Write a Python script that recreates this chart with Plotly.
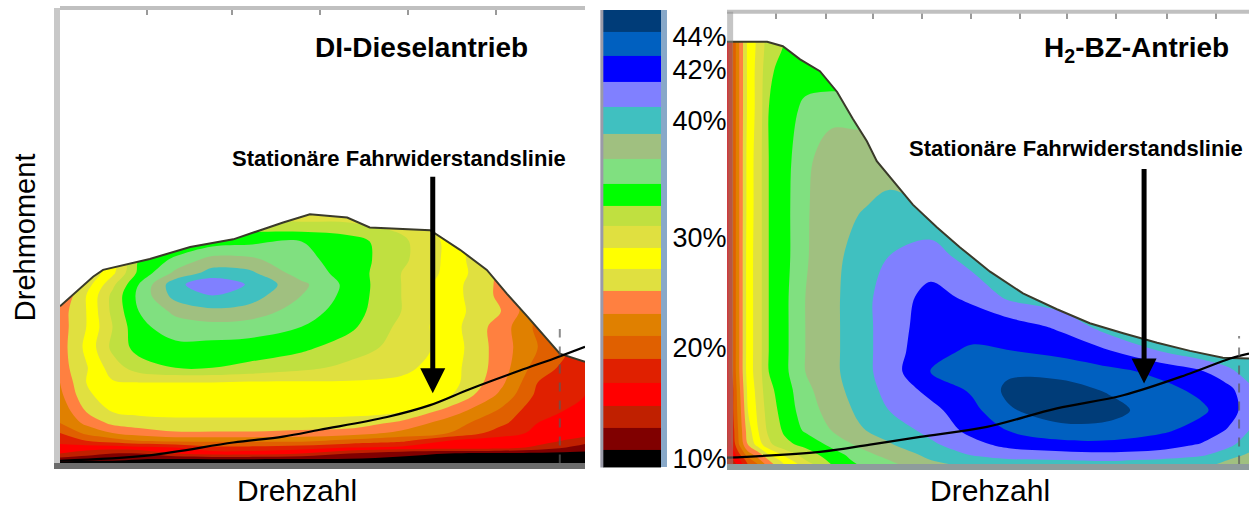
import numpy as np
import plotly.graph_objects as go

# ---------------- efficiency classes (band centres in %) and colours ----------------
band_eff = [10, 12, 14, 16, 18, 20, 22, 24, 26, 28, 30, 32, 34, 36, 38, 40, 41, 42, 43.5, 45]
band_colors = ["#000000", "#800000", "#c02000", "#ff0000", "#e02000", "#e06000", "#e08000",
               "#ff8040", "#e0e040", "#ffff00", "#e0e040", "#c0e040", "#00ff00", "#80e080",
               "#a0c080", "#40c0c0", "#8080ff", "#0000ff", "#0060c0", "#003c78"]
scale_ticks = [10, 20, 30, 40, 42, 44]
scale_labels = ["10%", "20%", "30%", "40%", "42%", "44%"]

# ---------------- DI-Diesel map (normalised speed / torque, efficiency in %) ----------------
diesel_speed = [0, 5, 10, 15, 22, 29, 36, 46, 55, 65, 74, 84, 91, 100]
diesel_torque = [0, 0.9, 2.2, 3.5, 5, 6.7, 8.9, 11.3, 15, 17.8, 21, 25.5, 30, 33.4,
                 36.9, 39.3, 41.8, 44.7, 48.7, 53.6, 58.6]
diesel_eff = [
    [10, 10, 10, 10, 10, 10, 10, 10, 10, 10, 10, 10, 10, 10],
    [12, 11.5, 11.5, 11, 10.8, 10.8, 10.8, 10.8, 10.8, 10.5, 10.3, 10.2, 10.2, 10.2],
    [15, 14, 13, 13, 15, 16, 16, 15, 13, 11.5, 11, 10.5, 10.5, 10.5],
    [16.5, 16, 16, 16.5, 17, 18.5, 18.5, 18, 17, 16.5, 16, 16, 14.5, 12],
    [17.5, 19, 20, 21, 21.5, 21.5, 21.5, 21.5, 20.5, 19.5, 17, 16, 16, 14],
    [19, 21.5, 23, 24, 24.8, 24.8, 24.8, 24.5, 24, 22.5, 21, 18, 16.5, 16],
    [21, 23.5, 25.5, 26, 26.2, 26.2, 26.2, 26.2, 26.3, 24.5, 22, 19.5, 17, 16],
    [21.5, 25, 27, 27.5, 27.8, 27.8, 27.8, 27.8, 27.5, 27, 24, 20.5, 17.5, 16.5],
    [22.5, 26.5, 28.3, 28.5, 28.5, 28.5, 28.5, 28.5, 28.5, 28.3, 27.3, 22.5, 18.5, 17],
    [23, 27, 28.8, 29, 29, 29, 28.8, 28.8, 28.8, 28.6, 28, 23.5, 19, 17],
    [24, 26.8, 30, 32, 33, 33, 32.5, 31.5, 30.5, 29.5, 28, 24, 20, 17.5],
    [24, 27.5, 31.5, 33.8, 34.5, 34.3, 34.2, 33.5, 32, 30.3, 28.3, 24, 21, 18],
    [24, 27, 31, 34.5, 36, 36.3, 36, 35, 33.5, 30.5, 28, 24, 20.5, 18],
    [24, 27, 31.5, 35, 37.5, 38.5, 38.2, 36, 34, 31, 28, 25, 21, 18],
    [23, 27, 31.5, 35.5, 39.8, 40.5, 40, 37, 34.3, 31, 28, 24.5, 21, 18],
    [22.5, 26, 30.5, 35, 40.2, 41.3, 40.4, 37.5, 34.4, 31, 28, 24.5, 21, 18],
    [22, 25, 28.5, 33.5, 37.5, 39.8, 39.5, 36, 34.3, 31, 28.5, 24.5, 21, 18],
    [21.5, 24.5, 28, 33, 35.5, 37.8, 37.5, 35.5, 34.2, 31.5, 28.5, 24, 21, 18],
    [21, 24, 27.5, 31, 33, 34, 34.5, 35, 34, 31.5, 28.5, 24, 21, 18],
    [20, 23, 26, 29, 30.5, 31, 31, 30.5, 30.5, 30, 28, 24, 21, 18],
    [19, 22, 25, 27, 28, 29, 29, 29, 29, 29, 27.5, 24, 21, 18],
]
diesel_full_speed = [0, 6.3, 8.2, 17.1, 24.8, 33.0, 42.5, 47.6, 54.7, 59.0, 70.5, 76.2,
                     81.3, 85.1, 89.0, 93.3, 95.2, 100]
diesel_full_torque = [34.5, 41.0, 42.5, 44.9, 47.5, 49.2, 52.9, 54.7, 54.0, 51.8, 51.2, 46.9,
                      42.5, 37.3, 32.3, 26.5, 24.1, 22.3]
diesel_road_speed = [0, 17, 33, 42.5, 49.5, 62.3, 70.5, 78, 87.6, 94, 100]
diesel_road_torque = [0.6, 1.8, 4.6, 5.9, 7.4, 10.2, 12.8, 16.3, 20.4, 23.0, 25.6]
diesel_rated_speed = [95.2, 95.2]
diesel_rated_torque = [0, 29.5]
diesel_arrow_tip = (71.0, 15.4)
diesel_speed_ticks = [16.6, 32.8, 49.5, 66.3, 83.0]

# ---------------- H2 fuel-cell map ----------------
fc_speed = [0, 1.2, 2.5, 4, 6, 8, 11, 15, 20, 25, 31, 39, 47, 54, 64, 73, 83, 91, 96, 100]
fc_torque = [0, 1, 2.2, 4.4, 7.5, 12, 16.5, 20.5, 25, 30.5, 37, 46, 57, 68, 78.5, 87, 93.5, 100]
fc_eff = [
    [13, 14, 16, 19, 21, 24, 27, 30, 33, 35, 36.5, 38.5, 39.5, 40, 40.2, 40.2, 40, 39.5, 38.5, 37.5],
    [14, 15, 17, 20, 22.5, 25, 28, 31, 33.5, 35.5, 37, 39, 40, 40.4, 40.5, 40.6, 40.4, 40, 39, 38],
    [15, 16, 19, 22, 24, 27, 29.5, 32, 34, 36, 37.8, 39.5, 40.6, 41, 41.2, 41.3, 41.1, 40.7, 39.8, 38.8],
    [14.5, 18, 21.5, 25, 28, 30.5, 32.5, 33.5, 35.5, 37.3, 38.8, 40.3, 41.2, 41.8, 42.2, 42.3, 42, 41.4, 40.8, 39.8],
    [15, 18.5, 22, 26, 29, 31.5, 33.3, 35.3, 37, 38.7, 39.8, 40.8, 41.8, 42.8, 43.8, 43.8, 43, 42.2, 41.4, 40.5],
    [15.5, 19, 22.5, 27, 29.5, 32, 33.8, 36, 37.8, 39.3, 40.5, 41.2, 42.3, 44.1, 45, 44.8, 43.5, 43, 42, 41],
    [15.5, 19, 23, 27.5, 29.8, 32.5, 34, 36.5, 38.2, 39.8, 40.8, 41.8, 43, 44.6, 44.8, 44.1, 43.2, 42.4, 41.8, 40.8],
    [16, 19.5, 23.5, 28, 30, 33, 34.5, 37, 38.5, 40, 41, 42.8, 43.5, 44, 43.8, 43.2, 42.4, 41.6, 40.8, 40],
    [16, 19.5, 23.5, 28, 30, 33, 34.5, 37, 38.5, 40, 41, 42.3, 43, 42.8, 42.3, 41.6, 40.5, 39.5, 39, 39],
    [16, 19.5, 23.5, 28, 30, 33, 34.5, 37, 38.5, 40, 41, 42, 42.1, 42, 41.3, 40, 39.5, 39, 39, 39],
    [16, 19.5, 23.5, 28, 30, 33, 34.5, 37, 38.5, 40, 41, 41.8, 41.3, 40.3, 39.5, 39.5, 39.5, 39.5, 39.5, 39.5],
    [16, 19.5, 23.5, 28, 30, 33, 34.3, 36.8, 38.3, 39.8, 40.5, 41, 40, 40, 40, 40, 40, 40, 40, 40],
    [16, 19.5, 23.5, 27.8, 30, 33, 34.3, 36.8, 38, 38.8, 39.5, 39, 39, 39, 39, 39, 39, 39, 39, 39],
    [16, 19.5, 23.5, 27.8, 30, 33, 34.2, 36.5, 38, 38.3, 38, 38, 38, 38, 38, 38, 38, 38, 38, 38],
    [16, 19.5, 23.5, 27.5, 29.8, 33, 34, 35.5, 36.3, 36, 36, 36, 36, 36, 36, 36, 36, 36, 36, 36],
    [16, 19.5, 23.5, 27.5, 29.8, 32.5, 34, 34, 33.5, 33.5, 33.5, 33.5, 33.5, 33.5, 33.5, 33.5, 33.5, 33.5, 33.5, 33.5],
    [16, 19.5, 23.5, 27.5, 29.5, 32, 33, 33.5, 33.5, 33.5, 33.5, 33.5, 33.5, 33.5, 33.5, 33.5, 33.5, 33.5, 33.5, 33.5],
    [16, 19.5, 23.5, 27.5, 29.5, 32, 33, 33.5, 33.5, 33.5, 33.5, 33.5, 33.5, 33.5, 33.5, 33.5, 33.5, 33.5, 33.5, 33.5],
]
fc_full_speed = [0, 7.7, 10.7, 14.0, 17.8, 21.1, 24.1, 26.8, 28.7, 31.8, 35.6, 40.2, 44.6,
                 50.4, 56.7, 63.2, 69.5, 75.9, 82.4, 88.7, 95.0, 100]
fc_full_torque = [93.4, 93.4, 92.4, 89.5, 86.9, 82.3, 76.4, 71.4, 67.0, 62.7, 57.4, 52.4, 48.0,
                  42.6, 37.8, 34.3, 31.2, 29.0, 26.9, 25.1, 23.6, 23.4]
fc_road_speed = [0, 17.8, 27.4, 37.0, 49.8, 63.2, 75.9, 88.7, 96.4, 100]
fc_road_torque = [1.5, 2.8, 4.4, 6.1, 8.3, 12.4, 15.3, 20.1, 23.4, 24.5]
fc_rated_speed = [98.1, 98.1]
fc_rated_torque = [0, 28.4]
fc_arrow_tip = (79.9, 17.9)
fc_speed_ticks = [9.4, 19.0, 28.0, 37.4, 46.7, 56.1, 65.1, 74.5, 84.3, 93.7]

# ---------------- style constants ----------------
W, H = 1249, 510
FONT = "Liberation Sans, Arial, sans-serif"
# drawn height (px) of each band in the colour scale, bottom to top
SCALE_BAND_PX = [18, 22, 22, 24, 24, 23, 22, 24, 22, 21, 22, 21, 22, 25, 26, 27, 25, 26, 25, 22]

n_b = len(band_colors)
colorscale = [[j / (n_b - 1), c] for j, c in enumerate(band_colors)]


def to_band(eff):
    return np.interp(np.asarray(eff, dtype=float), band_eff, np.arange(n_b)).tolist()


fig = go.Figure()


def add_map(xs, ys, eff, fx, fy, rx, ry, vx, vy, xa, ya, xtick_axis):
    fig.add_trace(go.Contour(
        x=xs, y=ys, z=to_band(eff), xaxis=xa, yaxis=ya,
        colorscale=colorscale, autocontour=False,
        contours=dict(start=0.5, end=n_b - 1.5, size=1, coloring="fill", showlines=False),
        line=dict(width=0, smoothing=1.0), showscale=False, hoverinfo="skip"))
    # white area above the full-load curve
    fig.add_trace(go.Scatter(
        x=fx + [100, 0], y=fy + [100, 100], xaxis=xa, yaxis=ya, mode="lines",
        fill="toself", fillcolor="white", line=dict(width=0, color="white"),
        hoverinfo="skip", showlegend=False))
    # full-load curve
    fig.add_trace(go.Scatter(x=fx, y=fy, xaxis=xa, yaxis=ya, mode="lines",
                             line=dict(color="#3a3a2a", width=2), hoverinfo="skip",
                             showlegend=False))
    # stationary road-load line
    fig.add_trace(go.Scatter(x=rx, y=ry, xaxis=xa, yaxis=ya, mode="lines",
                             line=dict(color="black", width=2.2, shape="spline"),
                             hoverinfo="skip", showlegend=False))
    # rated-speed dashed line (also anchors the top tick axis)
    fig.add_trace(go.Scatter(x=vx, y=vy, xaxis=xa, yaxis=ya, mode="lines",
                             line=dict(color="rgba(90,90,90,0.7)", width=2, dash="dash"),
                             hoverinfo="skip", showlegend=False))
    fig.add_trace(go.Scatter(x=vx, y=vy, xaxis=xtick_axis, yaxis=ya, mode="lines",
                             line=dict(width=0), opacity=0, hoverinfo="skip",
                             showlegend=False))


add_map(diesel_speed, diesel_torque, diesel_eff, diesel_full_speed, diesel_full_torque,
        diesel_road_speed, diesel_road_torque, diesel_rated_speed, diesel_rated_torque,
        "x", "y", "x4")
add_map(fc_speed, fc_torque, fc_eff, fc_full_speed, fc_full_torque,
        fc_road_speed, fc_road_torque, fc_rated_speed, fc_rated_torque, "x2", "y2", "x5")

# colour scale as a stacked band column
edges = np.concatenate([[0], np.cumsum(SCALE_BAND_PX)])
centres = (edges[:-1] + edges[1:]) / 2
fig.add_trace(go.Heatmap(z=[[j] for j in range(n_b)], x=[0], y=edges.tolist(),
                         colorscale=colorscale, zmin=0, zmax=n_b - 1, showscale=False,
                         xaxis="x3", yaxis="y3", hoverinfo="skip"))
scale_pos = np.interp(np.interp(scale_ticks, band_eff, np.arange(n_b)),
                      np.arange(n_b), centres).tolist()

hidden = dict(showgrid=False, zeroline=False, showticklabels=False, ticks="")
top_ticks = dict(side="top", showline=False, showgrid=False, zeroline=False,
                 showticklabels=False, ticks="inside", ticklen=7, tickwidth=2,
                 tickcolor="#9a9a9a", range=[0, 100])
fig.update_layout(
    width=W, height=H, margin=dict(l=0, r=0, t=0, b=0),
    paper_bgcolor="white", plot_bgcolor="white", showlegend=False,
    font=dict(family=FONT, color="black"),
    xaxis=dict(domain=[60 / W, 585 / W], range=[0, 100], anchor="y", showline=True,
               linecolor="#6c6c6c", linewidth=6, **hidden),
    yaxis=dict(domain=[41 / H, 502 / H], range=[0, 100], anchor="x", showline=True,
               linecolor="#c8c8c8", linewidth=6, **hidden),
    xaxis2=dict(domain=[727 / W, 1.0], range=[0, 100], anchor="y2", showline=True,
                linecolor="#8e9c9c", linewidth=6, **hidden),
    yaxis2=dict(domain=[40 / H, 498 / H], range=[0, 100], anchor="x2", showline=False,
                **hidden),
    xaxis3=dict(domain=[603 / W, 661 / W], range=[-0.5, 0.5], anchor="y3", visible=False),
    yaxis3=dict(domain=[37 / H, 500 / H], range=[0, float(edges[-1])], anchor="x3",
                side="right", showline=True, linecolor="#88a8c8", linewidth=6,
                showgrid=False, zeroline=False, ticks="", tickmode="array",
                tickvals=scale_pos, ticktext=scale_labels,
                tickfont=dict(size=27, family=FONT, color="black")),
    xaxis4=dict(overlaying="x", anchor="y", tickvals=diesel_speed_ticks, **top_ticks),
    xaxis5=dict(overlaying="x2", anchor="y2", tickvals=fc_speed_ticks, **top_ticks),
)

# frame lines
for xr, yr in (("x domain", "y domain"), ("x2 domain", "y2 domain")):
    fig.add_shape(type="line", xref=xr, yref=yr, x0=0, x1=1, y0=1, y1=1,
                  line=dict(color="#c0c0c0", width=4))
fig.add_shape(type="line", xref="x2 domain", yref="y2 domain", x0=0.006, x1=0.006, y0=0, y1=1,
              line=dict(color="rgba(140,140,140,0.5)", width=6))
fig.add_shape(type="line", xref="x3 domain", yref="y3 domain", x0=-0.02, x1=-0.02, y0=0, y1=1,
              line=dict(color="#9a9aa8", width=3))


def ann(text, x, y, size, bold=False, angle=0):
    fig.add_annotation(text=f"<b>{text}</b>" if bold else text, x=x / W, y=1 - y / H,
                       xref="paper", yref="paper", showarrow=False, textangle=angle,
                       xanchor="center", yanchor="middle",
                       font=dict(size=size, family=FONT, color="black"))


ann("DI-Dieselantrieb", 421, 48, 28, bold=True)
ann("H<sub>2</sub>-BZ-Antrieb", 1136, 50, 28, bold=True)
ann("Stationäre Fahrwiderstandslinie", 399, 160, 22, bold=True)
ann("Stationäre Fahrwiderstandslinie", 1076, 150, 22, bold=True)
ann("Drehzahl", 297, 496, 30)
ann("Drehzahl", 990, 496, 30)
ann("Drehmoment", 25, 240, 29, angle=-90)

for (tx, ty), xa, ya, length in ((diesel_arrow_tip, "x", "y", 218), (fc_arrow_tip, "x2", "y2", 216)):
    fig.add_annotation(x=tx, y=ty, xref=xa, yref=ya, text="", showarrow=True,
                       ax=0, ay=-length, arrowhead=2, arrowsize=1, arrowwidth=5,
                       arrowcolor="black", standoff=0)

fig.write_html("out.html")
